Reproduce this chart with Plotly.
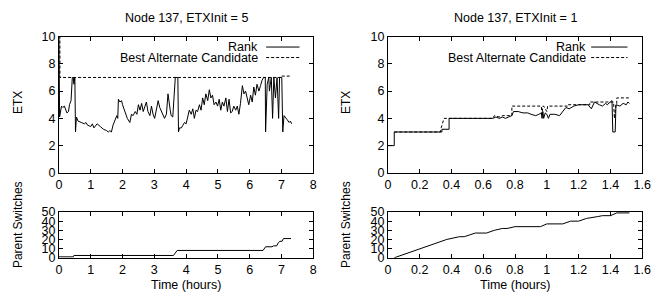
import plotly.graph_objects as go

# ---------------- data ----------------
rank5_t = [0.0, 0.02, 0.08, 0.12, 0.17, 0.2, 0.25, 0.3, 0.33, 0.38, 0.4, 0.42, 0.45, 0.47, 0.5, 0.52,
           0.55, 0.6, 0.7, 0.8, 0.85, 0.9, 1.0, 1.05, 1.1, 1.2, 1.3, 1.4, 1.5, 1.55, 1.6, 1.65, 1.7,
           1.77, 1.82, 1.85, 1.87, 1.92, 1.97, 2.0, 2.05, 2.1, 2.15, 2.23, 2.28, 2.33, 2.4, 2.45,
           2.5, 2.55, 2.6, 2.65, 2.7, 2.75, 2.8, 2.86, 2.91, 2.96, 3.01, 3.06, 3.12, 3.17, 3.22,
           3.27, 3.32, 3.38, 3.43, 3.5, 3.53, 3.58, 3.64, 3.66, 3.74, 3.76, 3.79, 3.85, 3.9, 3.95,
           4.0, 4.05, 4.1, 4.16, 4.21, 4.26, 4.31, 4.36, 4.42, 4.47, 4.52, 4.57, 4.62, 4.68, 4.73,
           4.78, 4.83, 4.88, 4.94, 4.99, 5.04, 5.09, 5.14, 5.19, 5.25, 5.3, 5.35, 5.4, 5.45, 5.5,
           5.56, 5.61, 5.66, 5.71, 5.77, 5.82, 5.87, 5.92, 5.97, 6.03, 6.08, 6.13, 6.18, 6.23, 6.29,
           6.34, 6.39, 6.44, 6.49, 6.5, 6.55, 6.6, 6.62, 6.65, 6.68, 6.72, 6.76, 6.81, 6.86, 6.91,
           6.94, 7.01, 7.04, 7.08, 7.13, 7.18, 7.24, 7.28, 7.32]
rank5_v = [10, 4.1, 4.9, 4.8, 4.9, 4.7, 4.4, 4.5, 5.0, 5.3, 6.0, 7.0, 7.0, 6.5, 7.0, 3.0,
           4.1, 3.8, 3.7, 3.6, 3.7, 3.5, 3.4, 3.6, 3.3, 3.6, 3.4, 3.2, 3.1, 3.0, 3.1, 3.0, 3.5,
           3.9, 4.2, 4.0, 5.4, 5.2, 5.3, 5.0, 4.7, 4.4, 4.0, 3.7, 4.3, 4.2, 4.5, 4.3,
           5.0, 4.6, 5.1, 4.5, 4.8, 5.2, 4.5, 4.2, 4.9, 4.3, 4.0, 4.5, 5.3, 4.8, 4.5,
           4.2, 4.0, 4.3, 5.8, 4.6, 4.2, 4.1, 5.8, 7.0, 7.0, 3.0, 3.3, 3.3, 3.5, 3.7,
           3.6, 4.2, 4.6, 4.3, 4.7, 4.0, 4.6, 4.5, 5.0, 4.6, 5.5, 5.0, 5.8, 5.3, 6.1,
           5.5, 5.7, 5.0, 5.2, 4.9, 5.4, 4.6, 5.2, 4.9, 5.5, 4.5, 5.4, 4.4, 4.5, 4.9,
           4.6, 4.9, 4.3, 5.1, 6.4, 5.8, 6.0, 5.5, 5.0, 5.7, 5.2, 6.3, 5.7, 6.5, 6.0,
           6.4, 6.8, 7.0, 7.0, 3.0, 6.5, 7.0, 6.0, 6.5, 7.0, 4.0, 7.0, 5.5, 7.0, 4.0,
           7.0, 7.0, 3.0, 4.2, 4.0, 3.9, 3.7, 3.8, 3.6]

alt5_t = [0.0, 0.03, 0.03, 7.0, 7.0, 7.32]
alt5_v = [10, 10, 7.0, 7.0, 7.1, 7.1]

rank1_t = [0.0, 0.04, 0.04, 0.34, 0.34, 0.385, 0.385, 0.66, 0.68, 0.7, 0.72, 0.74, 0.76, 0.78,
           0.79, 0.82, 0.85, 0.88, 0.9, 0.93, 0.95, 0.965, 0.97, 0.975, 0.98, 0.99, 1.0, 1.01,
           1.02, 1.05, 1.08, 1.1, 1.12, 1.14, 1.17, 1.2, 1.26, 1.28, 1.3, 1.33, 1.35, 1.37, 1.38,
           1.41, 1.415, 1.43, 1.435, 1.46, 1.48, 1.5, 1.51, 1.52]
rank1_v = [2.0, 2.0, 3.0, 3.0, 3.2, 3.2, 4.0, 4.0, 4.1, 4.0, 4.1, 4.0, 4.1, 4.2,
           4.5, 4.5, 4.4, 4.4, 4.3, 4.2, 4.3, 4.4, 4.0, 4.5, 4.0, 4.4, 4.3, 4.0,
           4.3, 4.3, 4.2, 4.5, 4.8, 4.7, 4.9, 5.0, 5.0, 4.7, 5.2, 5.0, 4.9, 5.1, 5.0,
           5.3, 3.0, 3.0, 5.0, 4.9, 5.1, 5.0, 5.2, 5.1]

alt1_t = [0.04, 0.33, 0.335, 0.353, 0.66, 0.67, 0.7, 0.72, 0.75, 0.78, 0.78, 0.965, 0.97,
          0.975, 0.98, 1.0, 1.005, 1.13, 1.13, 1.27, 1.27, 1.42, 1.425, 1.435, 1.44, 1.44, 1.52]
alt1_v = [3.0, 3.0, 3.3, 4.0, 4.0, 4.2, 4.1, 4.2, 4.2, 4.2, 4.9, 4.9, 4.3,
          4.9, 4.9, 4.5, 4.9, 4.9, 5.0, 5.0, 5.2, 5.2, 4.0, 5.0, 5.0, 5.5, 5.5]

sw5_t = [0.0, 0.45, 0.47, 3.6, 3.72, 6.42, 6.5, 6.7, 6.75, 6.85, 6.9, 6.95, 7.02, 7.06, 7.3]
sw5_v = [1, 1, 2.5, 2.5, 8, 8, 12, 12, 13, 13, 16.5, 18, 18, 21, 21]

sw1_t = [0.04, 0.2, 0.37, 0.45, 0.48, 0.55, 0.62, 0.67, 0.72, 0.75, 0.8, 0.96, 1.0, 1.1,
         1.15, 1.2, 1.25, 1.32, 1.35, 1.4, 1.44, 1.52]
sw1_v = [0, 10, 20, 23, 23, 27, 27, 30, 32, 32, 34, 34, 37, 37, 40, 40, 43, 45, 46, 46, 49, 49]

titles = ["Node 137, ETXInit = 5", "Node 137, ETXInit = 1"]
legend_names = ["Rank", "Best Alternate Candidate"]
etx_ticks = [0, 2, 4, 6, 8, 10]
sw_ticks = [0, 10, 20, 30, 40, 50]
xticks_left = [0, 1, 2, 3, 4, 5, 6, 7, 8]
xticks_right = [0, 0.2, 0.4, 0.6, 0.8, 1, 1.2, 1.4, 1.6]
xtick_right_text = ["0", "0.2", "0.4", "0.6", "0.8", "1", "1.2", "1.4", "1.6"]

# ---------------- figure ----------------
W, H = 662, 301
FONT = "Liberation Sans, Arial, Helvetica, sans-serif"
FS = 12.5
FS_LAB = 12

def px_x(p):
    return p / W

def px_y(p):
    return 1 - p / H

LX = [px_x(57), px_x(316)]
RX = [px_x(392), px_x(651)]
TOPY = [px_y(174), px_y(31)]
BOTY = [px_y(263), px_y(215)]

fig = go.Figure()
line_solid = dict(color="black", width=1)
line_dash = dict(color="black", width=1, dash="3px,2px")

fig.add_trace(go.Scatter(x=rank5_t, y=rank5_v, mode="lines", line=line_solid, xaxis="x", yaxis="y", showlegend=False))
fig.add_trace(go.Scatter(x=alt5_t, y=alt5_v, mode="lines", line=line_dash, xaxis="x", yaxis="y", showlegend=False))
fig.add_trace(go.Scatter(x=rank1_t, y=rank1_v, mode="lines", line=line_solid, xaxis="x2", yaxis="y2", showlegend=False))
fig.add_trace(go.Scatter(x=alt1_t, y=alt1_v, mode="lines", line=line_dash, xaxis="x2", yaxis="y2", showlegend=False))
fig.add_trace(go.Scatter(x=sw5_t, y=sw5_v, mode="lines", line=line_solid, xaxis="x3", yaxis="y3", showlegend=False))
fig.add_trace(go.Scatter(x=sw1_t, y=sw1_v, mode="lines", line=line_solid, xaxis="x4", yaxis="y4", showlegend=False))

axis_common = dict(showgrid=False, zeroline=False, showline=True, linecolor="black", linewidth=1,
                   mirror="ticks", ticks="inside", ticklen=4, tickcolor="black", tickwidth=1,
                   tickfont=dict(family=FONT, size=FS, color="black"))

fig.update_layout(
    autosize=True, margin=dict(l=0, r=0, t=0, b=0, pad=0),
    paper_bgcolor="white", plot_bgcolor="white",
    font=dict(family=FONT, size=FS, color="black"),
    showlegend=False,
    xaxis=dict(domain=LX, range=[0, 8], tickvals=xticks_left, anchor="y", **axis_common),
    yaxis=dict(domain=TOPY, range=[0, 10], tickvals=etx_ticks, anchor="x", **axis_common),
    xaxis2=dict(domain=RX, range=[0, 1.6], tickvals=xticks_right, ticktext=xtick_right_text, anchor="y2", **axis_common),
    yaxis2=dict(domain=TOPY, range=[0, 10], tickvals=etx_ticks, anchor="x2", **axis_common),
    xaxis3=dict(domain=LX, range=[0, 8], tickvals=xticks_left, anchor="y3", **axis_common),
    yaxis3=dict(domain=BOTY, range=[0, 50], tickvals=sw_ticks, anchor="x3", **axis_common),
    xaxis4=dict(domain=RX, range=[0, 1.6], tickvals=xticks_right, ticktext=xtick_right_text, anchor="y4", **axis_common),
    yaxis4=dict(domain=BOTY, range=[0, 50], tickvals=sw_ticks, anchor="x4", **axis_common),
)

annos = []
shapes = []
ylab_x = [16, 350]
for i, (xd, title) in enumerate([(LX, titles[0]), (RX, titles[1])]):
    cx = (xd[0] + xd[1]) / 2
    annos.append(dict(text=title, x=cx, y=px_y(12), xref="paper", yref="paper",
                      xanchor="center", yanchor="middle", showarrow=False, font=dict(size=FS)))
    annos.append(dict(text="Time (hours)", x=cx, y=px_y(292), xref="paper", yref="paper",
                      xanchor="center", yanchor="middle", showarrow=False, font=dict(size=FS)))
    lx0 = px_x(ylab_x[i])
    annos.append(dict(text="ETX", x=lx0, y=px_y(100), xref="paper", yref="paper", textangle=-90,
                      xanchor="center", yanchor="middle", showarrow=False, font=dict(size=FS_LAB)))
    annos.append(dict(text="Parent Switches", x=lx0, y=px_y(228), xref="paper", yref="paper", textangle=-90,
                      xanchor="center", yanchor="middle", showarrow=False, font=dict(size=FS_LAB)))
    # legend
    right_txt = 262 if i == 0 else 596
    s0 = 268 if i == 0 else 599
    s1 = 302 if i == 0 else 636
    for j, (name, ly) in enumerate(zip(legend_names, [42, 53])):
        annos.append(dict(text=name, x=px_x(right_txt), y=px_y(ly), xref="paper", yref="paper",
                          xanchor="right", yanchor="middle", showarrow=False, font=dict(size=FS)))
        shapes.append(dict(type="line", xref="paper", yref="paper", x0=px_x(s0), x1=px_x(s1),
                           y0=px_y(ly), y1=px_y(ly),
                           line=line_solid if j == 0 else line_dash))

fig.update_layout(annotations=annos, shapes=shapes)
fig.write_html(
    "out.html",
    default_width="100vw",
    default_height="100vh",
    config={"displayModeBar": False, "responsive": True},
    post_script="document.documentElement.style.margin='0';document.documentElement.style.padding='0';"
                "document.documentElement.style.overflow='hidden';"
                "document.body.style.margin='0';document.body.style.padding='0';"
                "document.body.style.overflow='hidden';",
)
